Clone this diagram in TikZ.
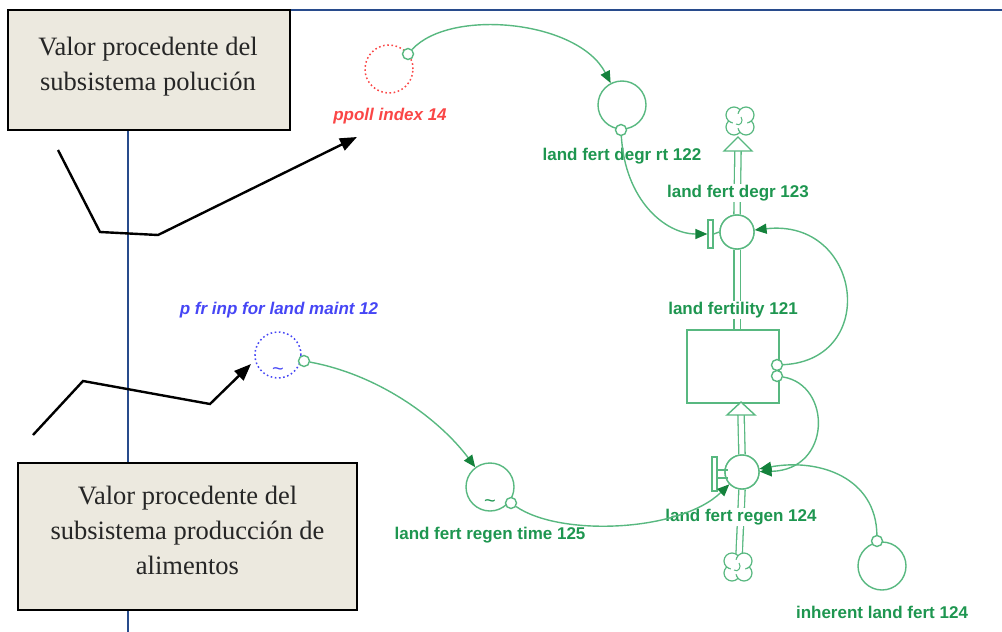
\documentclass[tikz,border=0pt]{standalone}
\usepackage{fontspec}
\setmainfont{Liberation Serif}
\newfontfamily\arialf{Liberation Sans}
\usetikzlibrary{arrows.meta}
\definecolor{lgreen}{RGB}{88,184,128}
\definecolor{tgreen}{RGB}{30,150,80}
\definecolor{dgreen}{RGB}{20,130,60}
\definecolor{pred}{RGB}{250,70,70}
\definecolor{pblue}{RGB}{70,70,245}
\definecolor{frameblue}{RGB}{40,75,140}
\definecolor{boxfill}{RGB}{236,233,223}
\tikzset{
  gl/.style={draw=lgreen, line width=1.4pt},
  garrow/.style={gl, -{Triangle[length=12pt,width=10pt,color=dgreen]}},
  lab/.style={font=\arialf\bfseries\fontsize{17}{19}\selectfont, text=tgreen, inner sep=1.5pt},
  auxv/.style={circle, draw=lgreen, line width=1.4pt, minimum size=48pt, inner sep=0pt},
  conn/.style={circle, draw=lgreen, fill=white, line width=1.4pt, minimum size=11pt, inner sep=0pt},
  valve/.style={circle, draw=lgreen, fill=white, line width=1.4pt, minimum size=34pt, inner sep=0pt},
  pipe/.style={draw=lgreen, line width=1.3pt, double=white, double distance=5pt},
  hollowhead/.style={gl, fill=white, line join=miter},
  callbox/.style={draw=black, line width=2.5pt, fill=boxfill, inner sep=0pt},
  calltext/.style={align=center, font=\fontsize{26.5}{35}\selectfont, text=black!85, inner sep=0pt},
  callarrow/.style={draw=black, line width=2.4pt, -{Triangle[length=17pt,width=13pt]}},
  dotc/.style={circle, line width=1.5pt, dash pattern=on 1.6pt off 2.6pt, inner sep=0pt},
  sdcloud/.pic={
    \foreach \dx/\dy in {-6/-6,6/-6,-6/6,6/6}
      \draw[lgreen, line width=1.2pt, fill=white] (\dx pt,\dy pt) circle (8pt);
    \fill[white] (0,0) circle (7.5pt);
    \draw[lgreen, line width=1pt] (-4pt,-3pt) .. controls (0pt,-6pt) and (4pt,0pt) .. (1pt,4pt);
  }
}
\begin{document}
\begin{tikzpicture}[x=1pt,y=-1pt]
\useasboundingbox (0,0) rectangle (1002,632);
% frame lines
\coordinate (ftop) at (128,10);
\coordinate (fright) at (1002,10);
\coordinate (fbot) at (128,632);
\draw[frameblue, line width=1.5pt] (fbot) -- (ftop) -- (fright);

% ---- pipes and flows ----
\node[valve] (dv) at (737,232) {};
\node[valve] (rv) at (742,472) {};
\node[draw=lgreen, line width=1.4pt, fill=white, minimum width=92pt, minimum height=73pt, inner sep=0pt] (stock) at (733,366.5) {};
\coordinate (dhead) at (738,151);
\coordinate (rhead) at (741,414);
\coordinate (cloudtop) at (740,121);
\coordinate (cloudbot) at (738,567);
\draw[pipe] (dv.north) -- (dhead);
\draw[pipe] (dv.south) -- (dv.south |- stock.north);
\draw[pipe] (rv.north) -- (rhead);
\draw[pipe] (rv.south) -- ([yshift=-12pt]cloudbot);
\draw[hollowhead] (724,151) -- (738,137) -- (752,151) -- cycle;
\draw[hollowhead] (727,415) -- (741,402) -- (755,415) -- cycle;
\pic at (cloudtop) {sdcloud};
\pic at (cloudbot) {sdcloud};
\node[valve] at (dv) {};
\node[valve] at (rv) {};
% valve handles
\node[draw=lgreen, line width=1.2pt, fill=white, minimum width=5pt, minimum height=28pt, inner sep=0pt] (dbar) at (710.5,234) {};
\draw[gl] (dbar.east) -- (dv.west);
\node[draw=lgreen, line width=1.2pt, fill=white, minimum width=5pt, minimum height=34pt, inner sep=0pt] (rbar) at (714.5,474) {};
\draw[gl] ([yshift=-4pt]rbar.east) -- ++(10,0);
\draw[gl] ([yshift=4pt]rbar.east) -- ++(10,0);

% ---- variables ----
\node[dotc, draw=pred, minimum size=48pt] (pp) at (389,69) {};
\node[dotc, draw=pblue, minimum size=46pt] (pf) at (278,355) {};
\node[text=pblue, font=\fontsize{20}{20}\selectfont, inner sep=0pt] (pft) at (278,372) {\arialf\char"007E};
\node[auxv] (ldr) at (622,105) {};
\node[auxv] (lrt) at (490,487) {};
\node[text=tgreen, font=\fontsize{20}{20}\selectfont, inner sep=0pt] (lrtt) at (490,504) {\arialf\char"007E};
\node[auxv] (ilf) at (882,566) {};

% labels
\node[lab, text=pred, font=\arialf\bfseries\itshape\fontsize{17}{19}\selectfont] (ppl) at (390,116) {ppoll index 14};
\node[lab, text=pblue, font=\arialf\bfseries\itshape\fontsize{17}{19}\selectfont] (pfl) at (279,310) {p fr inp for land maint 12};
\node[lab] (ldrl) at (622,156) {land fert degr rt 122};
\node[lab, fill=white] (dvl) at (738,193) {land fert degr 123};
\node[lab, fill=white] (stl) at (733,310) {land fertility 121};
\node[lab, fill=white] (rvl) at (741,517) {land fert regen 124};
\node[lab] (lrtl) at (490,535) {land fert regen time 125};
\node[lab] (ilfl) at (882,612) {inherent land fert 124};

% connectors
\node[conn] (cpp) at (408,54) {};
\node[conn] (cldr) at (621,130) {};
\node[conn] (cs1) at (777,365) {};
\node[conn] (cs2) at (777,376) {};
\node[conn] (cilf) at (877,541) {};
\node[conn] (cpf) at (304,361) {};
\node[conn] (clrt) at (511,503) {};

\draw[garrow] (cpp) .. controls (450,8) and (578,20) .. (ldr);
\draw[garrow] (cldr) .. controls (625,200) and (665,234) .. (dbar.west);
\draw[garrow] (cs1) .. controls (880,360) and (862,218) .. (dv);
\draw[garrow] (cs2) .. controls (832,385) and (832,470) .. (rv);
\draw[garrow] (cilf) .. controls (876,478) and (820,458) .. (rv);
\draw[garrow] (cpf) .. controls (380,375) and (440,420) .. (lrt);
\draw[garrow] (clrt) .. controls (560,537) and (680,532) .. (rv);

% ---- callouts ----
\node[callbox, minimum width=282pt, minimum height=120pt] (box1) at (149,70) {};
\node[calltext] (box1t) at (148,67) {Valor procedente del\\subsistema polución};
\node[callbox, minimum width=339pt, minimum height=147pt] (box2) at (187.5,536.5) {};
\node[calltext] (box2t) at (187.5,530) {Valor procedente del\\subsistema producción de\\alimentos};
\coordinate (a1) at (58,150);
\coordinate (a2) at (100,232);
\coordinate (a3) at (158,235);
\coordinate (a4) at (357,137);
\draw[callarrow] (a1) -- (a2) -- (a3) -- (a4);
\coordinate (b1) at (33,435);
\coordinate (b2) at (83,381);
\coordinate (b3) at (210,404);
\coordinate (b4) at (251,364);
\draw[callarrow] (b1) -- (b2) -- (b3) -- (b4);
\end{tikzpicture}
\end{document}
